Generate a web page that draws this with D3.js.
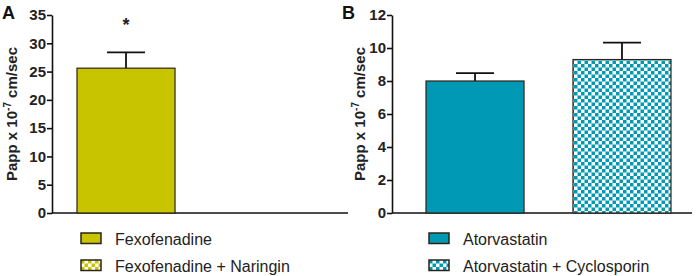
<!DOCTYPE html>
<html>
<head>
<meta charset="utf-8">
<script src="https://cdn.jsdelivr.net/npm/d3@7"></script>
<style>
  body { margin: 0; background: #fff; }
  svg { font-family: "Liberation Sans", Arial, sans-serif; }
</style>
</head>
<body>
<div id="chart"></div>
<script>
// panel A data
const categoriesA = ['Fexofenadine', 'Fexofenadine + Naringin'];
const meansA = [25.6, null];
const errorsA = [2.8, null];
const ticksA = [0, 5, 10, 15, 20, 25, 30, 35];

// panel B data
const categoriesB = ['Atorvastatin', 'Atorvastatin + Cyclosporin'];
const meansB = [8.0, 9.3];
const errorsB = [0.48, 1.02];
const ticksB = [0, 2, 4, 6, 8, 10, 12];

const svg = d3.select('#chart').append('svg')
  .attr('width', 699)
  .attr('height', 276);

const defs = svg.append('defs');

function checker(id, color) {
  const p = defs.append('pattern')
    .attr('id', id)
    .attr('patternUnits', 'userSpaceOnUse')
    .attr('width', 7)
    .attr('height', 7);
  p.append('rect').attr('width', 7).attr('height', 7).attr('fill', '#fff');
  p.append('rect').attr('width', 3.5).attr('height', 3.5).attr('fill', color);
  p.append('rect').attr('x', 3.5).attr('y', 3.5).attr('width', 3.5).attr('height', 3.5).attr('fill', color);
}
checker('checkA', '#c9c400');
checker('checkB', '#0099b5');

function panel(cfg) {
  const g = svg.append('g').attr('transform', `translate(${cfg.left},15)`);
  const height = 198;
  const width = cfg.width;

  const y = d3.scaleLinear().domain([0, cfg.max]).range([height, 0]);
  const x = d3.scaleBand()
    .domain(cfg.categories)
    .range([cfg.padLeft, cfg.padLeft + 98 * 2 + 49])
    .paddingInner(0.333)
    .paddingOuter(0);

  const yAxis = d3.axisLeft(y)
    .tickValues(cfg.ticks)
    .tickSize(5)
    .tickSizeOuter(0)
    .tickPadding(1);

  const yg = g.append('g').call(yAxis);
  yg.select('.domain').attr('stroke', '#111').attr('stroke-width', 1.6);
  yg.selectAll('.tick line').attr('stroke', '#111').attr('stroke-width', 1.6);
  yg.selectAll('.tick text')
    .style('font-family', '"Liberation Sans", Arial, sans-serif')
    .style('font-size', '15px')
    .style('font-weight', 'bold')
    .attr('fill', '#222');

  g.append('line')
    .attr('x1', 0).attr('x2', width)
    .attr('y1', height).attr('y2', height)
    .attr('stroke', '#111').attr('stroke-width', 1.6);

  const rows = cfg.categories.map((c, i) => ({ c, m: cfg.means[i], e: cfg.errors[i], fill: cfg.fills[i] }))
    .filter((d) => d.m !== null);

  const capW = 38;
  g.selectAll('.err')
    .data(rows)
    .join('path')
    .attr('fill', 'none')
    .attr('stroke', '#111')
    .attr('stroke-width', 1.8)
    .attr('d', (d) => {
      const cx = x(d.c) + x.bandwidth() / 2;
      return `M${cx},${y(d.m)}V${y(d.m + d.e)}M${cx - capW / 2},${y(d.m + d.e)}H${cx + capW / 2}`;
    });

  g.selectAll('.bar')
    .data(rows)
    .join('rect')
    .attr('class', 'bar')
    .attr('x', (d) => x(d.c))
    .attr('width', x.bandwidth())
    .attr('y', (d) => y(d.m))
    .attr('height', (d) => height - y(d.m))
    .attr('fill', (d) => d.fill)
    .attr('stroke', '#2a2418')
    .attr('stroke-width', 1.2);

  if (cfg.star) {
    const d = rows[0];
    g.append('text')
      .attr('x', x(d.c) + x.bandwidth() / 2)
      .attr('y', y(d.m + d.e) - 21)
      .attr('text-anchor', 'middle')
      .style('font-size', '18px')
      .style('font-weight', 'bold')
      .attr('fill', '#222')
      .text('*');
  }

  // y label
  const lab = g.append('text')
    .attr('transform', `translate(${cfg.labelX},${height / 2}) rotate(-90)`)
    .attr('text-anchor', 'middle')
    .style('font-size', '15px')
    .style('font-weight', 'bold')
    .attr('fill', '#222');
  lab.append('tspan').text('Papp x 10');
  lab.append('tspan').attr('dy', -6).style('font-size', '10px').text('-7');
  lab.append('tspan').attr('dy', 6).text(' cm/sec');

  // panel letter
  svg.append('text')
    .attr('x', cfg.letterX)
    .attr('y', 18.5)
    .style('font-size', '18px')
    .style('font-weight', 'bold')
    .attr('fill', '#111')
    .text(cfg.letter);

  // legend
  const lg = svg.append('g').attr('transform', `translate(${cfg.legendX},233)`);
  const item = lg.selectAll('g')
    .data(cfg.categories)
    .join('g')
    .attr('transform', (d, i) => `translate(0,${i * 27})`);
  item.append('rect')
    .attr('width', 20)
    .attr('height', 10.5)
    .attr('fill', (d, i) => cfg.fills[i])
    .attr('stroke', '#2a2418')
    .attr('stroke-width', 1.5);
  item.append('text')
    .attr('x', 34)
    .attr('y', 11.5)
    .style('font-size', '16px')
    .attr('fill', '#222')
    .text((d) => d);
}

panel({
  left: 52, width: 296, padLeft: 25, max: 35,
  categories: categoriesA, means: meansA, errors: errorsA, ticks: ticksA,
  fills: ['#c9c400', 'url(#checkA)'], star: true,
  labelX: -35, letter: 'A', letterX: 2, legendX: 81,
});

panel({
  left: 392, width: 300, padLeft: 34, max: 12,
  categories: categoriesB, means: meansB, errors: errorsB, ticks: ticksB,
  fills: ['#0099b5', 'url(#checkB)'], star: false,
  labelX: -27, letter: 'B', letterX: 342, legendX: 429,
});
</script>
</body>
</html>
